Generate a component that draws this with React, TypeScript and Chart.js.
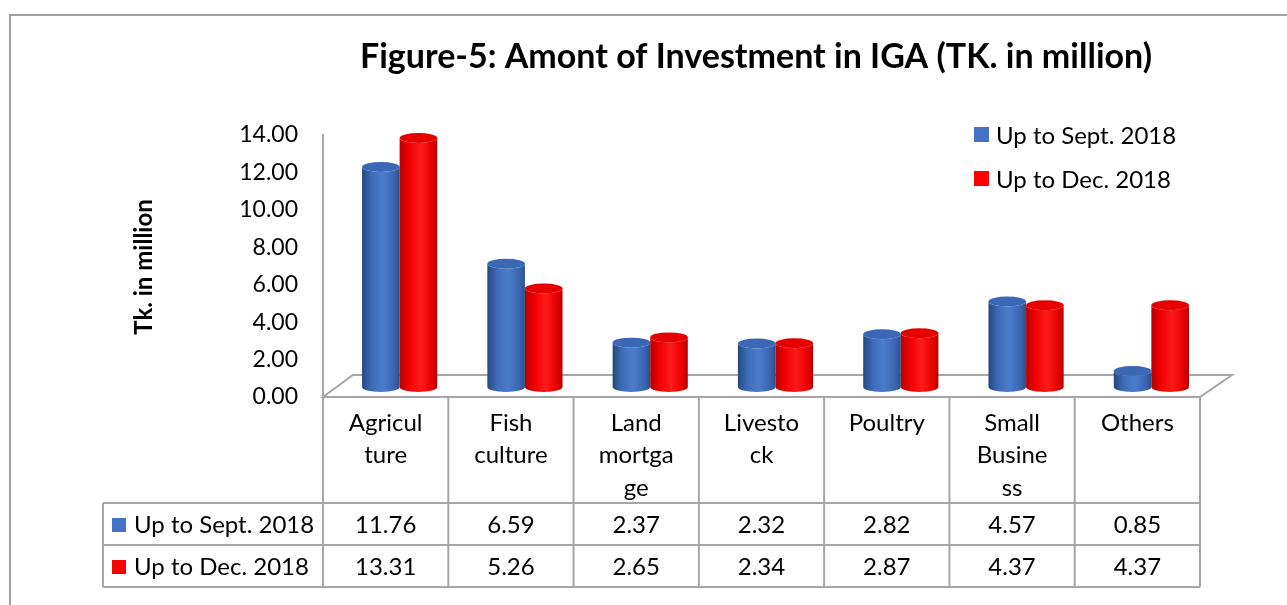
import React, { useEffect, useRef } from "react";
import { Chart, registerables } from "chart.js";

Chart.register(...registerables);

// ---- data ----
const categories: string[][] = [
  ["Agricul", "ture"],
  ["Fish", "culture"],
  ["Land", "mortga", "ge"],
  ["Livesto", "ck"],
  ["Poultry"],
  ["Small", "Busine", "ss"],
  ["Others"],
];
const seriesNames = ["Up to Sept. 2018", "Up to Dec. 2018"];
const septValues = [11.76, 6.59, 2.37, 2.32, 2.82, 4.57, 0.85];
const decValues = [13.31, 5.26, 2.65, 2.34, 2.87, 4.37, 4.37];
const yTickValues = [0, 2, 4, 6, 8, 10, 12, 14];
const titleText = "Figure-5: Amont of Investment in IGA (TK. in million)";
const yAxisTitle = "Tk. in million";

// ---- styles ----
const FONT = "Lato, 'Open Sans', sans-serif";
const seriesColors = ["#4472c4", "#ff0000"];
const cylStops = [
  [
    [0, "#24487f"],
    [0.25, "#3e6bb8"],
    [0.55, "#4b7ccc"],
    [0.85, "#3a66b0"],
    [1, "#2a5090"],
  ],
  [
    [0, "#b80000"],
    [0.25, "#f00000"],
    [0.55, "#ff1a1a"],
    [0.85, "#e80000"],
    [1, "#b00000"],
  ],
];
const capColors = ["#3a68b6", "#e60000"];
const lineGray = "#a6a6a6";

const chartDecor = {
  id: "chartDecor",
  beforeDraw(chart: any) {
    const ctx = chart.ctx;
    ctx.save();
    ctx.fillStyle = "#ffffff";
    ctx.fillRect(0, 0, chart.width, chart.height);
    // outer border
    ctx.strokeStyle = "#a0a0a0";
    ctx.lineWidth = 2;
    ctx.strokeRect(10, 15, chart.width + 50, chart.height + 50);
    ctx.restore();
  },
  beforeDatasetsDraw(chart: any) {
    const ctx = chart.ctx;
    const { left, right, bottom } = chart.chartArea;
    ctx.save();
    // 3D floor
    ctx.beginPath();
    ctx.moveTo(left, bottom);
    ctx.lineTo(right, bottom);
    ctx.lineTo(right + 32, bottom - 22);
    ctx.lineTo(left + 30, bottom - 22);
    ctx.closePath();
    ctx.fillStyle = "#ffffff";
    ctx.fill();
    ctx.strokeStyle = lineGray;
    ctx.lineWidth = 2;
    ctx.stroke();
    ctx.restore();
  },
  afterDatasetsDraw(chart: any) {
    const ctx = chart.ctx;
    const dx = 14;
    const dy = -10;
    ctx.save();
    chart.data.datasets.forEach((_ds: any, di: number) => {
      const meta = chart.getDatasetMeta(di);
      meta.data.forEach((el: any) => {
        const w = el.width;
        const cx = el.x + dx;
        const yT = el.y + dy;
        const yB = el.base + dy;
        const rx = w / 2;
        const ry = 5;
        const x0 = cx - rx;
        const x1 = cx + rx;
        const g = ctx.createLinearGradient(x0, 0, x1, 0);
        cylStops[di].forEach((s: any) => g.addColorStop(s[0], s[1]));
        ctx.beginPath();
        ctx.moveTo(x0, yT);
        ctx.lineTo(x0, yB);
        ctx.ellipse(cx, yB, rx, ry, 0, Math.PI, 0, true);
        ctx.lineTo(x1, yT);
        ctx.ellipse(cx, yT, rx, ry, 0, 0, Math.PI, false);
        ctx.closePath();
        ctx.fillStyle = g;
        ctx.fill();
        ctx.beginPath();
        ctx.ellipse(cx, yT, rx, ry, 0, 0, Math.PI * 2);
        ctx.fillStyle = capColors[di];
        ctx.fill();
      });
    });
    ctx.restore();
  },
  afterDraw(chart: any) {
    const ctx = chart.ctx;
    const { left, right, bottom } = chart.chartArea;
    ctx.save();
    // title
    ctx.fillStyle = "#000";
    ctx.textAlign = "center";
    ctx.textBaseline = "alphabetic";
    ctx.font = `bold 34px ${FONT}`;
    ctx.fillText(titleText, 756, 68);
    // y axis title
    ctx.save();
    ctx.translate(152, 267);
    ctx.rotate(-Math.PI / 2);
    ctx.font = `bold 24px ${FONT}`;
    ctx.textBaseline = "alphabetic";
    ctx.fillText(yAxisTitle, 0, 0);
    ctx.restore();
    // legend (top right)
    ctx.font = `24px ${FONT}`;
    ctx.textAlign = "left";
    ctx.textBaseline = "middle";
    seriesNames.forEach((name, i) => {
      const cy = 135 + i * 44;
      ctx.fillStyle = seriesColors[i];
      ctx.fillRect(974, cy - 8, 15, 15);
      ctx.fillStyle = "#000";
      ctx.fillText(name, 996, cy + 1);
    });
    // data table
    const n = categories.length;
    const colW = (right - left) / n;
    const headerBottom = bottom + 106;
    const rowH = 42;
    const tableLeft = 103;
    const tableBottom = headerBottom + rowH * 2;
    ctx.strokeStyle = lineGray;
    ctx.lineWidth = 2;
    ctx.beginPath();
    for (let r = 0; r <= 2; r++) {
      const y = headerBottom + r * rowH;
      ctx.moveTo(tableLeft, y);
      ctx.lineTo(right, y);
    }
    for (let i = 0; i <= n; i++) {
      const x = left + i * colW;
      ctx.moveTo(x, bottom);
      ctx.lineTo(x, tableBottom);
    }
    ctx.moveTo(tableLeft, headerBottom);
    ctx.lineTo(tableLeft, tableBottom);
    ctx.stroke();

    ctx.fillStyle = "#000";
    ctx.textAlign = "center";
    ctx.textBaseline = "middle";
    ctx.font = `24px ${FONT}`;
    categories.forEach((lines, i) => {
      const cx = left + (i + 0.5) * colW;
      lines.forEach((ln, k) => {
        ctx.fillText(ln, cx, bottom + 26 + k * 32.5);
      });
    });
    const allSeries = [septValues, decValues];
    allSeries.forEach((vals, r) => {
      const cy = headerBottom + rowH * (r + 0.5) + 1;
      vals.forEach((v, i) => {
        const cx = left + (i + 0.5) * colW;
        ctx.fillStyle = "#000";
        ctx.textAlign = "center";
        ctx.fillText(v.toFixed(2), cx, cy);
      });
      ctx.fillStyle = seriesColors[r];
      ctx.fillRect(112, cy - 7, 14, 14);
      ctx.fillStyle = "#000";
      ctx.textAlign = "left";
      ctx.fillText(seriesNames[r], 134, cy);
    });
    ctx.restore();
  },
};

export default function App() {
  const ref = useRef<HTMLCanvasElement | null>(null);
  useEffect(() => {
    if (!ref.current) return;
    const chart = new Chart(ref.current, {
      type: "bar",
      data: {
        labels: categories,
        datasets: [
          {
            label: seriesNames[0],
            data: septValues,
            backgroundColor: "rgba(0,0,0,0)",
            borderWidth: 0,
            categoryPercentage: 0.6,
            barPercentage: 1,
          },
          {
            label: seriesNames[1],
            data: decValues,
            backgroundColor: "rgba(0,0,0,0)",
            borderWidth: 0,
            categoryPercentage: 0.6,
            barPercentage: 1,
          },
        ],
      },
      options: {
        responsive: false,
        animation: false,
        devicePixelRatio: 1,
        events: [],
        layout: { padding: { left: 200, top: 135, right: 87, bottom: 208 } },
        plugins: { legend: { display: false }, title: { display: false }, tooltip: { enabled: false } },
        scales: {
          x: { display: false },
          y: {
            min: yTickValues[0],
            max: yTickValues[yTickValues.length - 1],
            afterFit: (s: any) => {
              s.width = 123;
            },
            grid: { display: false, drawTicks: false },
            border: { display: true, color: lineGray, width: 2 },
            ticks: {
              stepSize: 2,
              padding: 25,
              color: "#000",
              font: { family: FONT, size: 23 },
              callback: (v: any) => Number(v).toFixed(2),
            },
          },
        },
      },
      plugins: [chartDecor],
    });
    return () => chart.destroy();
  }, []);
  return (
    <div style={{ position: "absolute", left: 0, top: 0, width: 1287, height: 605 }}>
      <canvas ref={ref} width={1287} height={605} style={{ width: 1287, height: 605, display: "block" }} />
    </div>
  );
}
